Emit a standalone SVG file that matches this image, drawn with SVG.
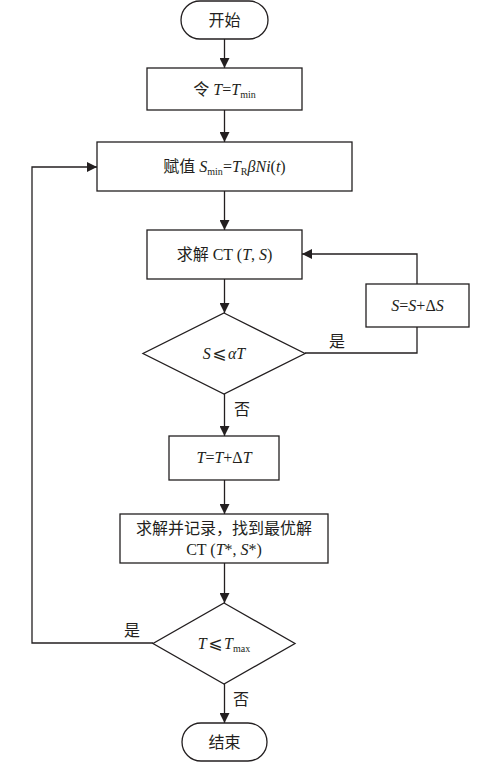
<svg xmlns="http://www.w3.org/2000/svg" width="500" height="763" viewBox="0 0 500 763">
<style>
.s{fill:#fff;stroke:#231f20;stroke-width:1.3}
.c{fill:none;stroke:#231f20;stroke-width:1.3}
text{font-family:"Liberation Serif","Noto Sans CJK SC",serif;font-size:16px;fill:#231f20;text-anchor:middle}
.i{font-style:italic}
.sub{font-size:10px}
.le{font-family:"DejaVu Sans",sans-serif;font-size:17px}
</style>
<defs>
<marker id="a" viewBox="0 0 10 10" refX="10" refY="5" markerWidth="10" markerHeight="10" markerUnits="userSpaceOnUse" orient="auto">
<path d="M0,0 L10,5 L0,10 z" fill="#231f20"/>
</marker>
</defs>
<g id="connectors">
<path class="c" d="M224.5,39 V68" marker-end="url(#a)"/>
<path class="c" d="M224.5,110 V142" marker-end="url(#a)"/>
<path class="c" d="M224.5,191 V230" marker-end="url(#a)"/>
<path class="c" d="M224.5,279 V313" marker-end="url(#a)"/>
<path class="c" d="M305,353 H417 V327"/>
<path class="c" d="M417,284 V254 H302" marker-end="url(#a)"/>
<path class="c" d="M224.5,394 V436" marker-end="url(#a)"/>
<path class="c" d="M224.5,480 V514" marker-end="url(#a)"/>
<path class="c" d="M224.5,563 V603" marker-end="url(#a)"/>
<path class="c" d="M153,643 H32 V167 H97" marker-end="url(#a)"/>
<path class="c" d="M224.5,684 V723" marker-end="url(#a)"/>
<text x="337" y="347">是</text>
<text x="242" y="415">否</text>
<text x="132" y="636">是</text>
<text x="241" y="705">否</text>
</g>
<g id="start">
<rect class="s" x="181" y="1" width="87" height="38" rx="19"/>
<text x="224.5" y="26">开始</text>
</g>
<g id="init">
<rect class="s" x="147" y="68" width="155" height="42"/>
<text x="224.5" y="95">令 <tspan class="i">T</tspan>=<tspan class="i">T</tspan><tspan class="sub" dy="3">min</tspan></text>
</g>
<g id="assign">
<rect class="s" x="97" y="142" width="255" height="49"/>
<text x="224.5" y="172">赋值 <tspan class="i">S</tspan><tspan class="sub" dy="3">min</tspan><tspan dy="-3">=</tspan><tspan class="i">T</tspan><tspan class="sub" dy="3">R</tspan><tspan class="i" dy="-3">βNi</tspan>(<tspan class="i">t</tspan>)</text>
</g>
<g id="solve">
<rect class="s" x="147" y="230" width="155" height="49"/>
<text x="224.5" y="260">求解 CT (<tspan class="i">T</tspan>, <tspan class="i">S</tspan>)</text>
</g>
<g id="incS">
<rect class="s" x="366" y="284" width="103" height="43"/>
<text x="417.5" y="311"><tspan class="i">S</tspan>=<tspan class="i">S</tspan>+Δ<tspan class="i">S</tspan></text>
</g>
<g id="cond1">
<polygon class="s" points="224,313 305,353.5 224,394 143,353.5"/>
<text x="224" y="359"><tspan class="i">S</tspan><tspan class="le" dx="1.5">⩽</tspan><tspan class="i" dx="1.5">αT</tspan></text>
</g>
<g id="incT">
<rect class="s" x="169" y="436" width="110" height="44"/>
<text x="224" y="463"><tspan class="i">T</tspan>=<tspan class="i">T</tspan>+Δ<tspan class="i">T</tspan></text>
</g>
<g id="record">
<rect class="s" x="120" y="514" width="208" height="49"/>
<text x="224" y="534">求解并记录，找到最优解</text>
<text x="224" y="555">CT (<tspan class="i">T</tspan>*, <tspan class="i">S</tspan>*)</text>
</g>
<g id="cond2">
<polygon class="s" points="224,603 295,643.5 224,684 153,643.5"/>
<text x="224" y="649"><tspan class="i">T</tspan><tspan class="le" dx="1.5">⩽</tspan><tspan class="i" dx="1.5">T</tspan><tspan class="sub" dy="3">max</tspan></text>
</g>
<g id="end">
<rect class="s" x="182" y="723" width="85" height="38" rx="19"/>
<text x="224.5" y="748">结束</text>
</g>
</svg>
